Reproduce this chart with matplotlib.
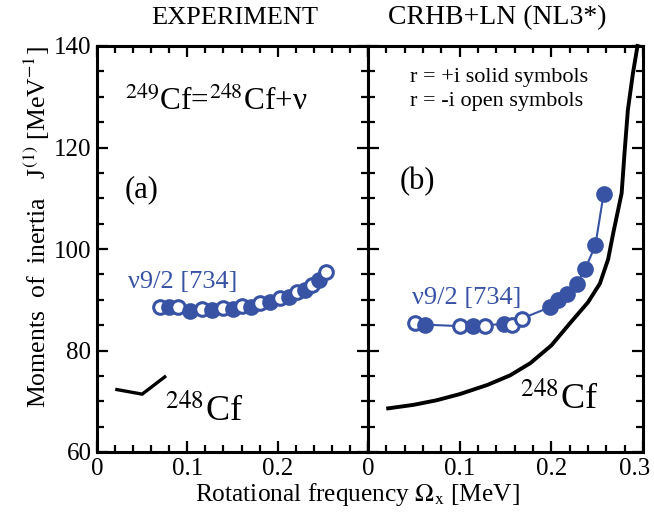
import matplotlib
matplotlib.use("Agg")
import matplotlib.pyplot as plt
from matplotlib.ticker import MultipleLocator, FuncFormatter
from matplotlib.transforms import ScaledTranslation

plt.rcParams['font.family'] = ['Liberation Serif', 'DejaVu Serif']
plt.rcParams['mathtext.fontset'] = 'stix'

BLUE = '#3953A4'

# ---- Experiment (panel a) ----
exp_open_x = [0.070, 0.090, 0.116, 0.139, 0.160, 0.180, 0.203, 0.221, 0.238, 0.254]
exp_open_y = [88.5, 88.6, 88.2, 88.3, 88.8, 89.3, 90.3, 91.5, 92.9, 95.4]
exp_solid_x = [0.080, 0.103, 0.127, 0.150, 0.170, 0.192, 0.212, 0.230, 0.246]
exp_solid_y = [88.5, 87.8, 87.9, 88.2, 88.6, 89.5, 90.6, 92.0, 93.8]
exp_gs_x = [0.022, 0.050, 0.075]
exp_gs_y = [72.3, 71.4, 74.8]

# ---- Theory (panel b) ----
th_open_x = [0.051, 0.100, 0.128, 0.157, 0.168]
th_open_y = [85.4, 84.8, 84.9, 85.1, 86.3]
th_solid_x = [0.062, 0.115, 0.148, 0.198, 0.2075, 0.217, 0.228, 0.237, 0.248, 0.257]
th_solid_y = [85.1, 84.9, 85.3, 88.5, 89.9, 91.2, 93.1, 96.1, 100.7, 110.8]
th_gs_x = [0.022, 0.050, 0.075, 0.100, 0.130, 0.155, 0.177, 0.200, 0.220, 0.240,
           0.253, 0.262, 0.2675, 0.2767, 0.280, 0.2835, 0.289, 0.294]
th_gs_y = [68.6, 69.3, 70.2, 71.4, 73.2, 75.1, 77.5, 81.0, 85.3, 89.5,
           93.2, 98.0, 103.1, 111.0, 119.3, 127.4, 134.6, 140.0]

fig = plt.figure(figsize=(6.54, 5.13), dpi=100)
L, R, B, T = 97/654, 643/654, 1-452/513, 1-46/513
mid = 368/654
axa = fig.add_axes([L, B, mid-L, T-B])
axb = fig.add_axes([mid, B, R-mid, T-B])

def fmt(v, pos):
    if abs(v) < 1e-9:
        return '0'
    return f'{v:.1f}'

for ax in (axa, axb):
    ax.set_xlim(0, 0.3)
    ax.set_ylim(60, 140)
    ax.xaxis.set_major_locator(MultipleLocator(0.1))
    ax.xaxis.set_minor_locator(MultipleLocator(0.02))
    ax.yaxis.set_major_locator(MultipleLocator(20))
    ax.yaxis.set_minor_locator(MultipleLocator(5))
    ax.xaxis.set_major_formatter(FuncFormatter(fmt))
    ax.tick_params(which='both', direction='in', top=True, right=True, width=1.6, labelsize=18)
    ax.tick_params(which='major', length=8, pad=4)
    ax.tick_params(which='minor', length=5)
    for s in ax.spines.values():
        s.set_linewidth(2.2)

axa.xaxis.set_major_formatter(FuncFormatter(lambda v, p: '' if v > 0.25 else fmt(v, p)))
axb.tick_params(labelleft=False)

def series(ax, ox, oy, sx, sy):
    allx = list(ox) + list(sx)
    ally = list(oy) + list(sy)
    order = sorted(range(len(allx)), key=lambda i: allx[i])
    ax.plot([allx[i] for i in order], [ally[i] for i in order], color=BLUE, lw=1.5, zorder=2)
    pts = [(x, y, 'o') for x, y in zip(ox, oy)] + [(x, y, 's') for x, y in zip(sx, sy)]
    pts.sort()
    for k, (x, y, t) in enumerate(pts):
        fc = 'white' if t == 'o' else BLUE
        ax.plot([x], [y], 'o', ms=9.8, mfc=fc, mec=BLUE, mew=2.2, zorder=3+k*0.01)

series(axa, exp_open_x, exp_open_y, exp_solid_x, exp_solid_y)
axa.plot(exp_gs_x, exp_gs_y, color='black', lw=2.4)
series(axb, th_open_x, th_open_y, th_solid_x, th_solid_y)
axb.plot(th_gs_x, th_gs_y, color='black', lw=2.8, clip_on=False)

# texts
fig.text(235/654, 1-18/513, 'EXPERIMENT', ha='center', va='center', fontsize=19)
fig.text(497/654, 1-18/513, 'CRHB+LN (NL3*)', ha='center', va='center', fontsize=20)
axa.text(0.031, 127.4, r'$^{249}$Cf=$^{248}$Cf+ν', fontsize=22.5, ha='left', va='baseline')
axa.text(0.031, 111.6, '(a)', fontsize=22, ha='left', va='center')
axb.text(0.035, 113.2, '(b)', fontsize=22, ha='left', va='center')
axa.text(0.034, 93.5, 'ν9/2 [734]', fontsize=19, color=BLUE, ha='left', va='center')
axb.text(0.048, 90.3, 'ν9/2 [734]', fontsize=19, color=BLUE, ha='left', va='center')
axa.text(0.075, 66.0, r'$^{248}$Cf', fontsize=26, ha='left', va='baseline')
axb.text(0.166, 68.3, r'$^{248}$Cf', fontsize=26, ha='left', va='baseline')
axb.text(0.046, 133.7, 'r = +i solid symbols', fontsize=16, ha='left', va='center')
axb.text(0.046, 129.0, 'r = -i open symbols', fontsize=16, ha='left', va='center')

fig.text(0.056, 1-227/513, r'Moments  of  inertia   J$^{(1)}$ [MeV$^{-1}$]', rotation=90,
         ha='center', va='center', fontsize=18.5)
fig.text(357/654, 1-495/513, r'Rotational frequency $\Omega_{\rm x}$ [MeV]', ha='center', va='center', fontsize=18.3)

# shift the last tick label of panel b slightly left (as in the reference)
fig.canvas.draw()
for lab in axb.get_xticklabels():
    if lab.get_text() == '0.3':
        lab.set_transform(lab.get_transform() + ScaledTranslation(-6/72, 0, fig.dpi_scale_trans))

fig.savefig('out.png', dpi=100)
